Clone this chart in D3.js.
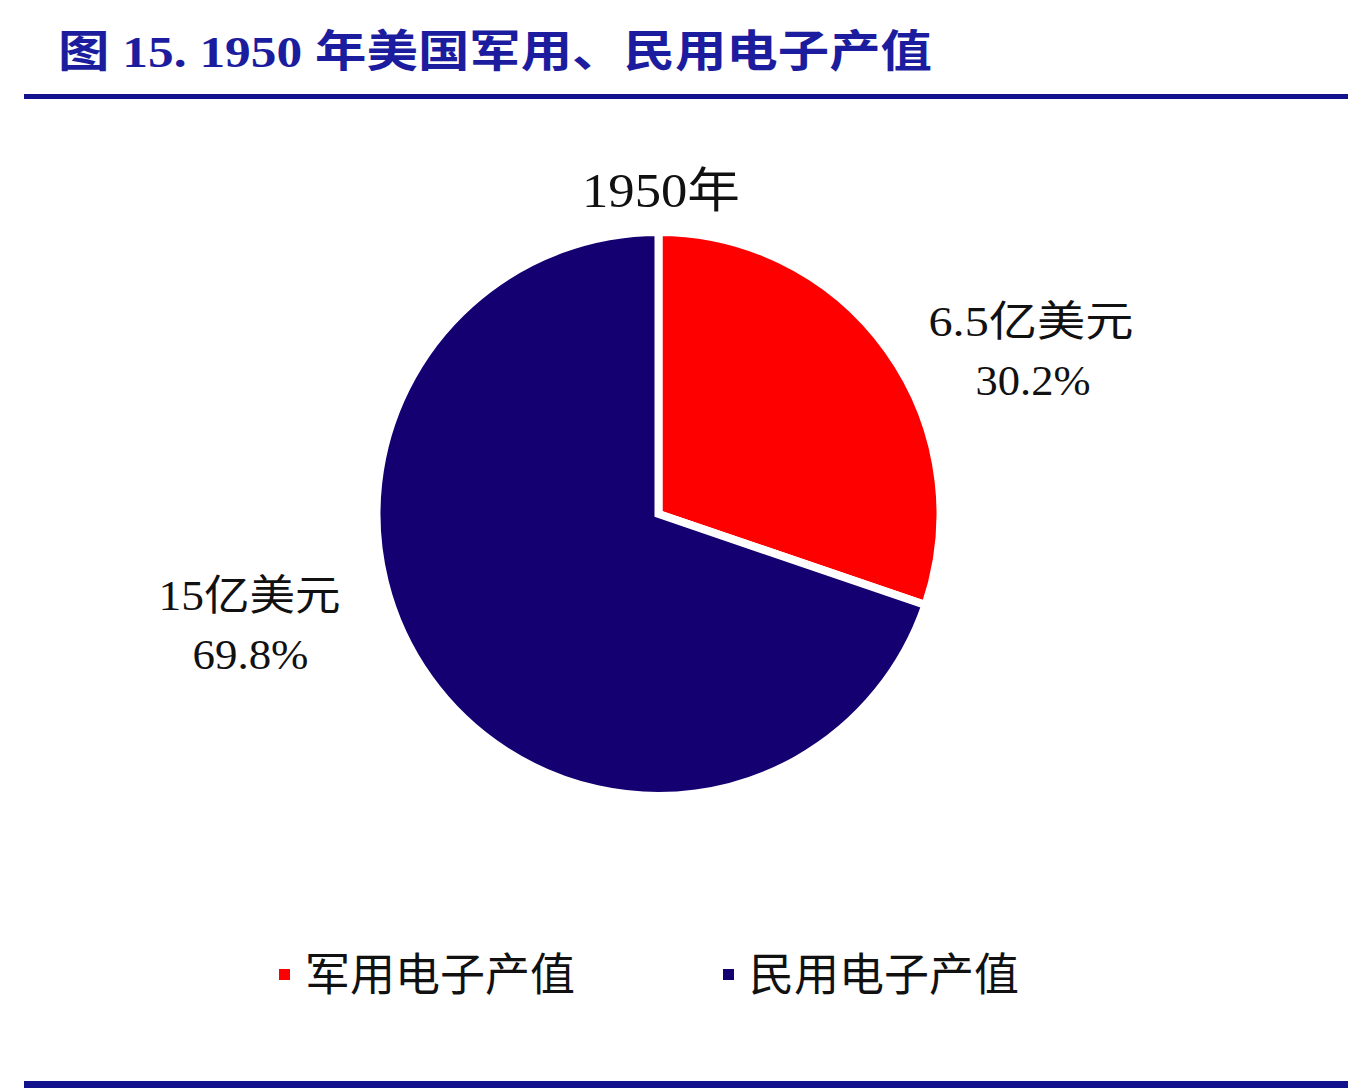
<!DOCTYPE html>
<html>
<head>
<meta charset="utf-8">
<script src="https://cdn.jsdelivr.net/npm/d3@7"></script>
<style>
  html, body { margin: 0; padding: 0; background: #fff; }
  svg { display: block; }
</style>
</head>
<body>
<div id="chart"></div>
<script>
"use strict";

// data
const categories = ["军用电子产值", "民用电子产值"];
const values = [6.5, 15];          // 亿美元
const colors = ["#FF0000", "#140070"];
const chartTitle = "1950年";
const figTitle = "图 15. 1950 年美国军用、民用电子产值";

const W = 1362, H = 1088;
const serif = "'Liberation Serif','DejaVu Serif','Noto Sans CJK SC',serif";

const svg = d3.select("#chart").append("svg")
    .attr("width", W)
    .attr("height", H);

// figure title + rules
svg.append("text")
    .attr("x", 58)
    .attr("y", 67)
    .attr("font-family", serif)
    .attr("font-weight", "bold")
    .attr("font-size", 44)
    .attr("fill", "#1C1C9E")
    .attr("textLength", 874)
    .attr("lengthAdjust", "spacingAndGlyphs")
    .text(figTitle);

svg.append("rect")
    .attr("x", 24).attr("y", 94)
    .attr("width", 1324).attr("height", 5)
    .attr("fill", "#12128C");

svg.append("rect")
    .attr("x", 24).attr("y", 1081)
    .attr("width", 1324).attr("height", 7)
    .attr("fill", "#12128C");

// chart title
svg.append("text")
    .attr("x", 582)
    .attr("y", 207)
    .attr("font-family", serif)
    .attr("font-size", 48)
    .attr("fill", "#111")
    .attr("textLength", 158)
    .attr("lengthAdjust", "spacingAndGlyphs")
    .text(chartTitle);

// pie
const cx = 658.5, cy = 514, r = 282;
const pie = d3.pie().sort(null)(values);
const arc = d3.arc().innerRadius(0).outerRadius(r);
const total = d3.sum(values);
const pct = d3.format(".1%");

const g = svg.append("g").attr("transform", `translate(${cx},${cy})`);

g.selectAll("path")
    .data(pie)
    .join("path")
    .attr("d", arc)
    .attr("fill", (d, i) => colors[i])
    .attr("stroke", "#fff")
    .attr("stroke-width", 8)
    .attr("stroke-linejoin", "miter");

// data labels (layout: left edge of each line relative to the pie centre, and line widths)
const labelLine1 = [[270, 205], [-500, 182]];
const labelLine2 = [[317, 115], [-466, 116]];

const lab = g.selectAll("g.lab")
    .data(pie)
    .join("g")
    .attr("class", "lab");

lab.append("text")
    .attr("x", (d, i) => labelLine1[i][0])
    .attr("y", (d, i) => i === 0 ? -178 : 96)
    .attr("font-family", serif)
    .attr("font-size", 42)
    .attr("fill", "#111")
    .attr("textLength", (d, i) => labelLine1[i][1])
    .attr("lengthAdjust", "spacingAndGlyphs")
    .text(d => d.data + "亿美元");

lab.append("text")
    .attr("x", (d, i) => labelLine2[i][0])
    .attr("y", (d, i) => i === 0 ? -119 : 155)
    .attr("font-family", serif)
    .attr("font-size", 42)
    .attr("fill", "#111")
    .attr("textLength", (d, i) => labelLine2[i][1])
    .attr("lengthAdjust", "spacingAndGlyphs")
    .text(d => pct(d.data / total));

// legend
const legendX = [279, 723];
const leg = svg.selectAll("g.leg")
    .data(categories)
    .join("g")
    .attr("class", "leg")
    .attr("transform", (d, i) => `translate(${legendX[i]},975)`);

leg.append("rect")
    .attr("x", 0).attr("y", -6)
    .attr("width", 11).attr("height", 11)
    .attr("fill", (d, i) => colors[i]);

leg.append("text")
    .attr("x", 26)
    .attr("y", 16)
    .attr("font-family", serif)
    .attr("font-size", 45)
    .attr("fill", "#111")
    .attr("textLength", 270)
    .attr("lengthAdjust", "spacingAndGlyphs")
    .text(d => d);
</script>
</body>
</html>
